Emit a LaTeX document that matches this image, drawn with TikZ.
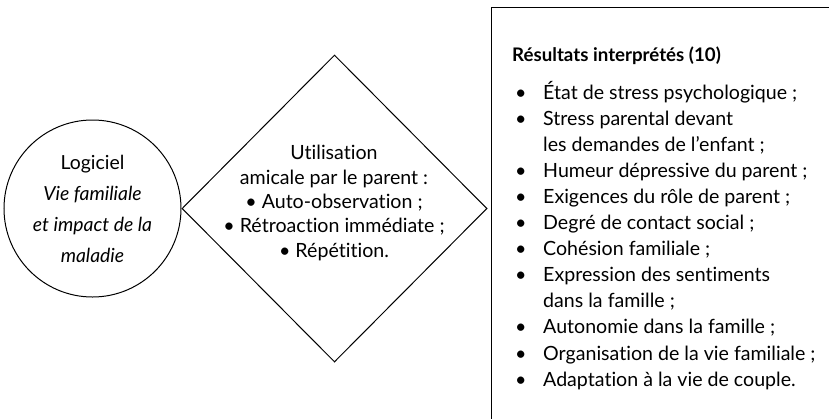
\documentclass[tikz,border=0pt]{standalone}
\usepackage{fontspec}
\setmainfont{Lato}[Ligatures=CommonOff]
\usetikzlibrary{shapes.geometric}
\tikzset{
  shapeline/.style={draw, line width=1pt, inner sep=0pt},
  txt/.style={inner sep=0pt, font=\fontsize{19.6}{24.3}\selectfont},
}
\begin{document}
\begin{tikzpicture}[x=1pt,y=-1pt]
\useasboundingbox (0,0) rectangle (829,418);
\clip (0,0) rectangle (829,418);
% circle
\node[shapeline, circle, minimum size=177pt, align=center,
      font=\fontsize{19.4}{31}\selectfont] (logiciel) at (92.5,208.5)
  {Logiciel\\\textit{Vie familiale}\\\textit{et impact de la}\\\textit{maladie}};
% diamond
\node[shapeline, diamond, minimum width=305pt, minimum height=307pt] (usage) at (334.5,208.5) {};
\node[txt, align=center] (usagetxt) at (334,203)
  {Utilisation\\amicale par le parent :\\\textbullet{} Auto-observation ;\\\textbullet{} Rétroaction immédiate ;\\\textbullet{} Répétition.};
% results box
\node[draw, line width=1.4pt, anchor=north west, minimum width=400pt, minimum height=450pt] (res) at (491,7) {};
\node[txt, anchor=base west, font=\fontsize{18.7}{24.3}\selectfont\bfseries] (head) at (512,61) {Résultats interprétés (10)};
\node[txt, anchor=base west, font=\fontsize{19.6}{26.1}\selectfont] (list) at (515,99)
  {\begin{tabular}[t]{@{}p{28pt}@{}l@{}}
  • & État de stress psychologique ;\\
  • & Stress parental devant\\
    & les demandes de l’enfant ;\\
  • & Humeur dépressive du parent ;\\
  • & Exigences du rôle de parent ;\\
  • & Degré de contact social ;\\
  • & Cohésion familiale ;\\
  • & Expression des sentiments\\
    & dans la famille ;\\
  • & Autonomie dans la famille ;\\
  • & Organisation de la vie familiale ;\\
  • & Adaptation à la vie de couple.
  \end{tabular}};
\end{tikzpicture}
\end{document}
